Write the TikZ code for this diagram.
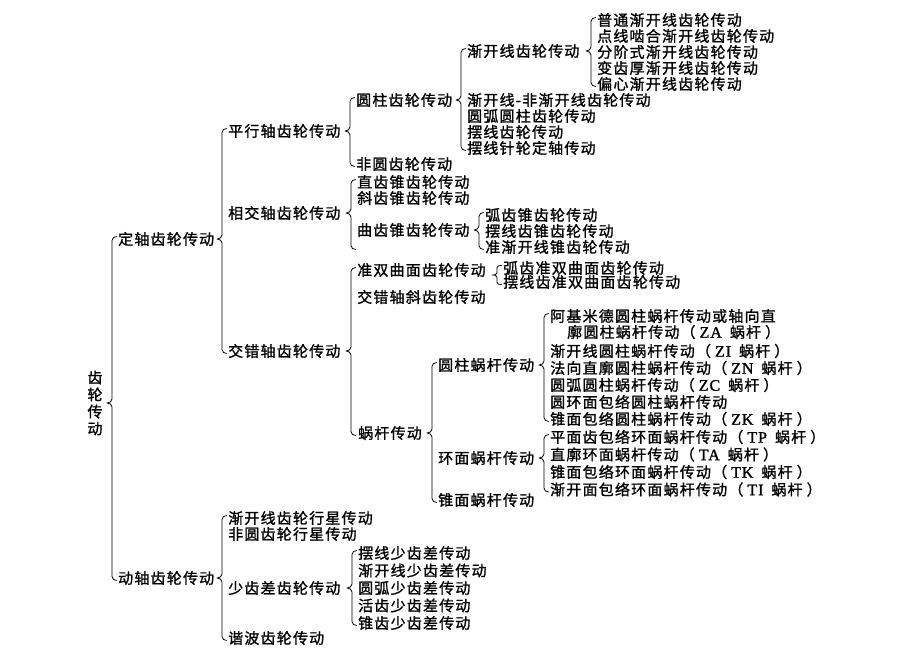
\documentclass[tikz,border=0pt]{standalone}
\usepackage{fontspec}
\usepackage{tikz}
\usetikzlibrary{positioning,calc}
\newfontfamily\cjk[LetterSpace=8, FakeBold=1.2]{Noto Sans CJK SC}
\newfontfamily\lat[LetterSpace=6, FakeBold=1.2]{Liberation Serif}
\newcommand{\wormtag}[1]{（\hspace{4pt}{\lat\fontsize{16}{17}\selectfont #1}\hspace{8pt}蜗杆\hspace{4pt}）}
\tikzstyle{item} = [anchor=west, inner sep=0pt]
\tikzstyle{brace} = [line width=0.8pt, line cap=round, line join=round]
\tikzset{next/.style={below=of #1.west, anchor=west}}
\newcommand{\gbrace}[4][4pt]{%
	\draw[brace] let \p1=(#2), \p2=(#3.west), \p3=(#4) in
		(\x2-1.5pt,\y2+2.5pt) to[out=180,in=90] (\x2-6pt,\y2+2.5pt-#1)
		-- (\x2-6pt,\y1+#1) to[out=-90,in=0] (\x2-11pt,\y1)
		to[out=0,in=90] (\x2-6pt,\y1-#1) -- (\x2-6pt,\y3-2.5pt+#1)
		to[out=-90,in=180] (\x2-1.5pt,\y3-2.5pt);}

\begin{document}
\begin{tikzpicture}[x=1pt, y=1pt, node distance=16pt, every node/.style={item, font=\cjk\fontsize{15}{17}\selectfont}]
		\useasboundingbox (0,0) rectangle (900,-658);
		\node[anchor=center, align=center] (gear) at (95,-403) {齿\\轮\\传\\动};
		\node (fixed) at (118,-239) {定轴齿轮传动};
		\node (moving) at (118,-578) {动轴齿轮传动};
		
		\node (parallel) at (228,-131) {平行轴齿轮传动};
		\node (intersect) at (228,-213) {相交轴齿轮传动};
		\node (crossed) at (228,-351) {交错轴齿轮传动};
		
		\node (spur) at (356,-100) {圆柱齿轮传动};
		\node (noncirc) at (356,-164) {非圆齿轮传动};
		\node (invo) at (467,-51) {渐开线齿轮传动};
		\node (invonon) at (467,-100) {渐开线-非渐开线齿轮传动};
		\node (arcspur) [next=invonon] {圆弧圆柱齿轮传动};
		\node (cyclo) [next=arcspur] {摆线齿轮传动};
		\node (pinwheel) [next=cyclo] {摆线针轮定轴传动};
		\node (invo1) at (597,-20) {普通渐开线齿轮传动};
		\node (invo2) [next=invo1] {点线啮合渐开线齿轮传动};
		\node (invo3) [next=invo2] {分阶式渐开线齿轮传动};
		\node (invo4) [next=invo3] {变齿厚渐开线齿轮传动};
		\node (invo5) [next=invo4] {偏心渐开线齿轮传动};
		
		\node (straight) at (357,-182) {直齿锥齿轮传动};
		\node (helical) [next=straight] {斜齿锥齿轮传动};
		\node (spiral) at (357,-230) {曲齿锥齿轮传动};
		\coordinate (spiral end) at ($(spiral.west)+(0,-17)$);
		\node (arcbevel) at (485,-215) {弧齿锥齿轮传动};
		\node (cyclobevel) [next=arcbevel] {摆线齿锥齿轮传动};
		\node (quasibevel) [next=cyclobevel] {准渐开线锥齿轮传动};
		
		\node (hypoid) at (357,-270) {准双曲面齿轮传动};
		\node (crosshelix) at (357,-297) {交错轴斜齿轮传动};
		\node (worm) at (358,-433) {蜗杆传动};
		\node (archypoid) at (503,-268) {弧齿准双曲面齿轮传动};
		\node (cyclohypoid) [node distance=14pt, next=archypoid] {摆线齿准双曲面齿轮传动};
		\coordinate (hypoid tip) at ($(archypoid.west)!0.5!(cyclohypoid.west)$);
		
		\node (cylworm) at (438,-365) {圆柱蜗杆传动};
		\node (toroid) at (438,-458) {环面蜗杆传动};
		\node (conical) at (438,-500) {锥面蜗杆传动};
		\node (za) at (550,-316) {阿基米德圆柱蜗杆传动或轴向直};
		\node (za2) [next=za, xshift=17pt] {廓圆柱蜗杆传动\wormtag{ZA}};
		\node (zi) at (550,-351) {渐开线圆柱蜗杆传动\wormtag{ZI}};
		\node (zn) [node distance=17pt, next=zi] {法向直廓圆柱蜗杆传动\wormtag{ZN}};
		\node (zc) [node distance=17pt, next=zn] {圆弧圆柱蜗杆传动\wormtag{ZC}};
		\node (ring) [node distance=17pt, next=zc] {圆环面包络圆柱蜗杆传动};
		\node (zk) [node distance=17pt, next=ring] {锥面包络圆柱蜗杆传动\wormtag{ZK}};
		\node (tp) at (550,-437) {平面齿包络环面蜗杆传动\wormtag{TP}};
		\node (ta) [node distance=17.5pt, next=tp] {直廓环面蜗杆传动\wormtag{TA}};
		\node (tk) [node distance=17.5pt, next=ta] {锥面包络环面蜗杆传动\wormtag{TK}};
		\node (ti) [node distance=17.5pt, next=tk] {渐开面包络环面蜗杆传动\wormtag{TI}};
		
		\node (planet1) at (228,-518) {渐开线齿轮行星传动};
		\node (planet2) [next=planet1] {非圆齿轮行星传动};
		\node (fewtooth) at (228,-588) {少齿差齿轮传动};
		\node (harmonic) at (228,-638) {谐波齿轮传动};
		\node (few1) at (358,-553) {摆线少齿差传动};
		\node (few2) [node distance=17.5pt, next=few1] {渐开线少齿差传动};
		\node (few3) [node distance=17.5pt, next=few2] {圆弧少齿差传动};
		\node (few4) [node distance=17.5pt, next=few3] {活齿少齿差传动};
		\node (few5) [node distance=17.5pt, next=few4] {锥齿少齿差传动};
		
		\gbrace{gear}{fixed}{moving}
		\gbrace{fixed}{parallel}{crossed}
		\gbrace{moving}{planet1}{harmonic}
		\gbrace{parallel}{spur}{noncirc}
		\gbrace{spur}{invo}{pinwheel}
		\gbrace{invo}{invo1}{invo5}
		\gbrace{intersect}{straight}{spiral end}
		\gbrace{spiral}{arcbevel}{quasibevel}
		\gbrace{crossed}{hypoid}{worm}
		\gbrace[2pt]{hypoid tip}{archypoid}{cyclohypoid}
		\gbrace{worm}{cylworm}{conical}
		\gbrace{cylworm}{za}{zk}
		\gbrace{toroid}{tp}{ti}
		\gbrace{fewtooth}{few1}{few5}
	\end{tikzpicture}
\end{document}
